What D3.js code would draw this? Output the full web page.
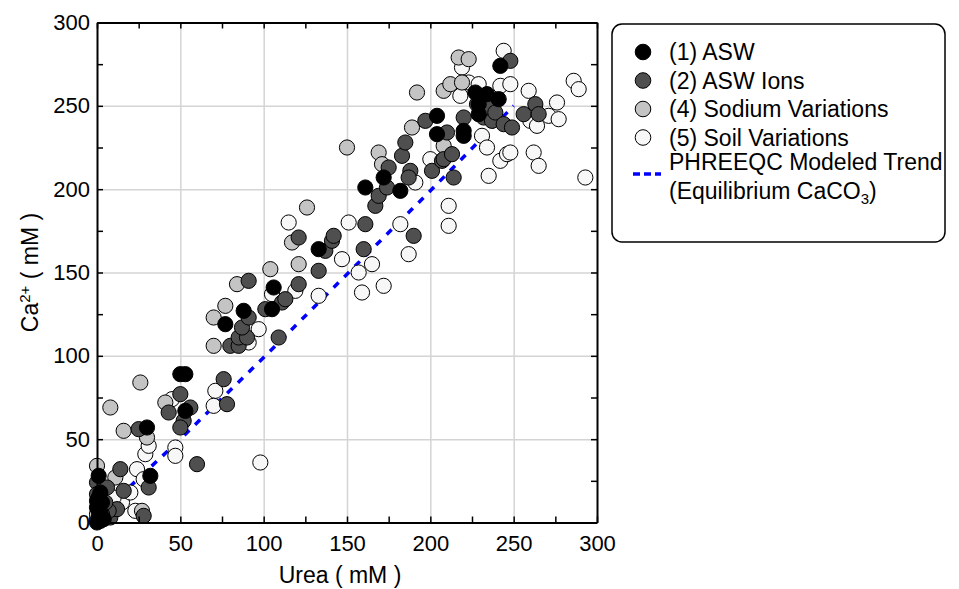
<!DOCTYPE html>
<html>
<head>
<meta charset="utf-8">
<script src="https://cdn.jsdelivr.net/npm/d3@7"></script>
<style>
  body { margin: 0; background: #fff; }
  svg { font-family: "Liberation Sans", Arial, sans-serif; }
</style>
</head>
<body>
<script>
// series data: [urea, Ca] in mM
var asw = [[0,0],[1,3],[2,6],[0,9],[3,12],[1,15],[4,2],[2,1],[1,7],[0,13],[2,18],[1,28],[32,28],[30,57],
  [53,67],[50,89],[53,89],[77,119],[88,127],[105,128],[106,141],[133,164],[161,201],[172,207],[182,199],
  [204,244],[204,233],[220,235],[220,232],[229,245],[227,258],[234,257],[241,254],[229,251],[242,274]];
var aswIons = [[0,24],[0,17],[2,11],[8,3],[6,21],[16,19],[12,8],[7,7],[28,4],[31,21],[14,32],[5,12],[3,5],
  [60,35],[25,56],[43,66],[52,61],[50,57],[50,77],[56,69],[76,86],[78,71],[80,106],[85,106],[85,111],
  [90,111],[87,117],[91,123],[91,145],[101,128],[109,111],[111,132],[113,134],[121,143],[133,151],[121,171],
  [137,163],[141,169],[142,172],[160,164],[161,179],[167,190],[169,196],[174,201],[175,213],[183,220],
  [185,228],[188,211],[187,207],[190,172],[197,241],[201,211],[207,217],[208,218],[210,234],[213,221],
  [214,207],[220,243],[228,251],[232,243],[234,249],[237,241],[239,246],[244,239],[249,237],[256,245],
  [263,251],[265,245],[248,277]];
var sodium = [[0,34],[11,27],[8,69],[16,55],[26,84],[30,51],[41,72],[70,106],[70,123],[77,130],[84,143],
  [104,152],[117,168],[121,155],[126,189],[150,225],[169,222],[171,215],[189,237],[192,258],[208,259],
  [208,226],[212,263],[217,279],[219,264],[223,278],[0,5],[2,20],[27,7],[1,10]];
var soil = [[15,12],[23,7],[20,18],[24,32],[28,26],[29,41],[31,46],[47,45],[47,40],[45,74],[71,79],[70,70],
  [98,36],[97,116],[91,108],[105,137],[119,139],[133,136],[115,180],[151,180],[147,158],[157,150],
  [165,155],[159,138],[172,142],[182,179],[187,161],[191,204],[200,218],[211,190],[211,178],[218,256],
  [219,273],[223,264],[229,263],[231,232],[234,225],[235,208],[242,217],[242,262],[244,283],[246,221],
  [248,263],[248,222],[259,259],[260,241],[262,222],[264,238],[265,214],[271,244],[276,252],[277,242],
  [286,265],[289,260],[293,207],[0,2],[10,15]];
var modelUrea = [0, 50, 100, 150, 200, 250];
var modelCa = [3, 50, 99, 149, 199, 250];

var xTicks = d3.range(0, 301, 25);
var yTicks = d3.range(0, 301, 25);

var margin = {left: 97, top: 22.5};
var width = 500, height = 500;

var svg = d3.select("body").append("svg")
  .attr("width", 959)
  .attr("height", 589);

var x = d3.scaleLinear().domain([0, 300]).range([0, width]);
var y = d3.scaleLinear().domain([0, 300]).range([height, 0]);

var g = svg.append("g").attr("transform", "translate(" + margin.left + "," + margin.top + ")");

// grid
g.append("g")
  .attr("transform", "translate(0," + height + ")")
  .call(d3.axisBottom(x).tickValues(d3.range(50, 300, 50)).tickSize(-height).tickFormat(""))
  .call(function (s) { s.select(".domain").remove(); s.selectAll("line").attr("stroke", "#d4d4d4").attr("stroke-width", 1.5); });
g.append("g")
  .call(d3.axisLeft(y).tickValues(d3.range(50, 300, 50)).tickSize(-width).tickFormat(""))
  .call(function (s) { s.select(".domain").remove(); s.selectAll("line").attr("stroke", "#d4d4d4").attr("stroke-width", 1.5); });

// model trend
var line = d3.line().x(function (d) { return x(d[0]); }).y(function (d) { return y(d[1]); });
g.append("path")
  .datum(modelUrea.map(function (u, i) { return [u, modelCa[i]]; }))
  .attr("d", line)
  .attr("fill", "none")
  .attr("stroke", "#0000ff")
  .attr("stroke-width", 3.5)
  .attr("stroke-dasharray", "7,8");

// points
var series = [
  {data: soil, fill: "#f7f7f7"},
  {data: sodium, fill: "#c4c4c4"},
  {data: aswIons, fill: "#4f4f4f"},
  {data: asw, fill: "#000000"}
];
series.forEach(function (s) {
  g.append("g").selectAll("circle")
    .data(s.data)
    .enter().append("circle")
    .attr("cx", function (d) { return x(d[0]); })
    .attr("cy", function (d) { return y(d[1]); })
    .attr("r", 7.6)
    .attr("fill", s.fill)
    .attr("stroke", "#000")
    .attr("stroke-width", 1);
});

// axes (inward ticks, box)
function styleAxis(s) {
  s.select(".domain").attr("stroke", "#000").attr("stroke-width", 2);
  s.selectAll(".tick line").attr("stroke", "#000").attr("stroke-width", 1.5);
  s.selectAll("text").attr("font-size", 22).attr("fill", "#000").attr("font-family", "Liberation Sans, Arial, sans-serif");
}
g.append("g")
  .attr("transform", "translate(0," + height + ")")
  .call(d3.axisBottom(x).tickValues(xTicks).tickSizeInner(-6).tickSizeOuter(0).tickPadding(13)
    .tickFormat(function (d) { return d % 50 === 0 ? d : ""; }))
  .call(styleAxis);
g.append("g")
  .call(d3.axisLeft(y).tickValues(yTicks).tickSizeInner(-6).tickSizeOuter(0).tickPadding(7)
    .tickFormat(function (d) { return d % 50 === 0 ? d : ""; }))
  .call(styleAxis);
g.append("g")
  .call(d3.axisTop(x).tickValues(xTicks).tickSizeInner(-6).tickSizeOuter(0).tickFormat(""))
  .call(styleAxis);
g.append("g")
  .attr("transform", "translate(" + width + ",0)")
  .call(d3.axisRight(y).tickValues(yTicks).tickSizeInner(-6).tickSizeOuter(0).tickFormat(""))
  .call(styleAxis);

// axis titles
svg.append("text")
  .attr("x", margin.left + width / 2 - 7)
  .attr("y", 583)
  .attr("text-anchor", "middle")
  .attr("font-size", 23)
  .text("Urea ( mM )");

var yt = svg.append("text")
  .attr("transform", "translate(38," + (margin.top + height / 2) + ") rotate(-90)")
  .attr("text-anchor", "middle")
  .attr("font-size", 23);
yt.append("tspan").text("Ca");
yt.append("tspan").attr("font-size", 15).attr("dy", -8).text("2+");
yt.append("tspan").attr("dy", 8).text(" ( mM )");

// legend
var lg = svg.append("g");
lg.append("rect")
  .attr("x", 612).attr("y", 24)
  .attr("width", 333).attr("height", 218)
  .attr("rx", 10)
  .attr("fill", "#fff")
  .attr("stroke", "#000")
  .attr("stroke-width", 1.5);

var legendItems = [
  {label: "(1) ASW", fill: "#000000"},
  {label: "(2) ASW Ions", fill: "#4f4f4f"},
  {label: "(4) Sodium Variations", fill: "#c4c4c4"},
  {label: "(5) Soil Variations", fill: "#f7f7f7"}
];
legendItems.forEach(function (d, i) {
  var cy = 52 + i * 28.5;
  lg.append("circle").attr("cx", 643).attr("cy", cy).attr("r", 7.8)
    .attr("fill", d.fill).attr("stroke", "#000").attr("stroke-width", 1);
  lg.append("text").attr("x", 669).attr("y", cy + 8).attr("font-size", 23).text(d.label);
});
lg.append("line")
  .attr("x1", 633).attr("x2", 661).attr("y1", 174).attr("y2", 174)
  .attr("stroke", "#0000ff").attr("stroke-width", 3.5).attr("stroke-dasharray", "7,4");
lg.append("text").attr("x", 669).attr("y", 170).attr("font-size", 23).text("PHREEQC Modeled Trend");
var eq = lg.append("text").attr("x", 669).attr("y", 199).attr("font-size", 23);
eq.append("tspan").text("(Equilibrium CaCO");
eq.append("tspan").attr("font-size", 15).attr("dy", 5).text("3");
eq.append("tspan").attr("dy", -5).text(")");
</script>
</body>
</html>
